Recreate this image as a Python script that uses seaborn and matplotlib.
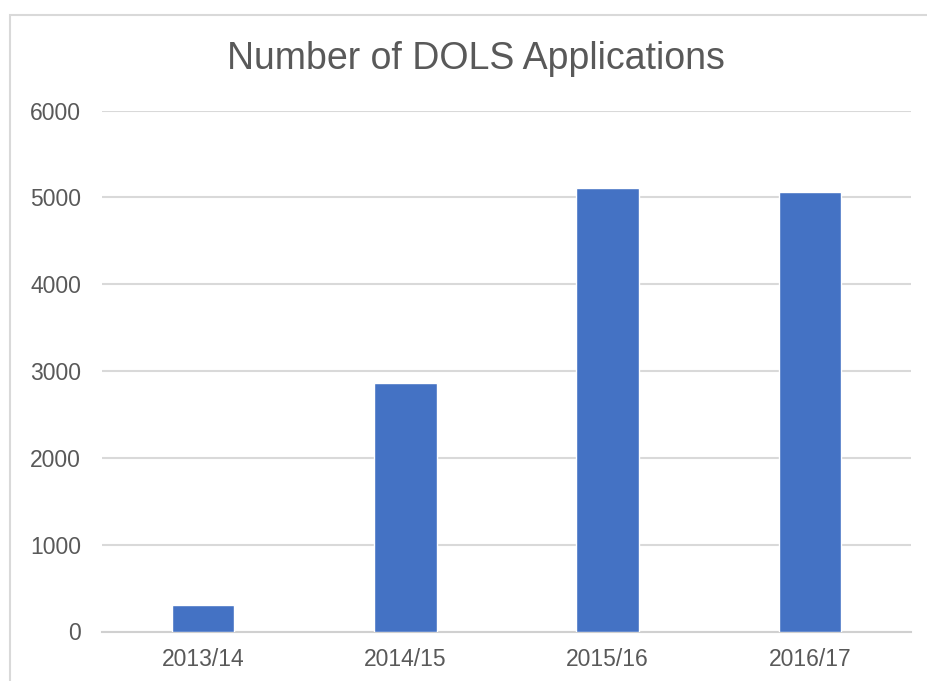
import matplotlib
matplotlib.use("Agg")
import matplotlib.pyplot as plt
import seaborn as sns
import pandas as pd
from matplotlib.patches import Rectangle

# data
years = ["2013/14", "2014/15", "2015/16", "2016/17"]
applications = [305, 2860, 5105, 5060]
yticks = [0, 1000, 2000, 3000, 4000, 5000, 6000]

sns.set_theme(style="white")
plt.rcParams['font.family'] = ['Liberation Sans', 'DejaVu Sans']

df = pd.DataFrame({"year": years, "applications": applications})

fig = plt.figure(figsize=(9.28, 6.81), dpi=100)
W, H = 928, 681

# light grey chart frame (cropped at right/bottom like the screenshot)
fig.patches.append(Rectangle((10 / W, -0.05), 1.1, (H - 15) / H + 0.05,
                             transform=fig.transFigure, fill=False,
                             edgecolor='#D9D9D9', linewidth=1.5))

ax = fig.add_axes([102 / W, 1 - 631.5 / H, (911 - 102) / W, (631.5 - 110.5) / H])
sns.barplot(data=df, x="year", y="applications", color='#4472C4',
            saturation=1, width=0.31, ax=ax, zorder=3)

ax.set_ylim(0, 6000)
ax.set_xlim(-0.5, 3.5)
ax.set_yticks(yticks)
ax.yaxis.grid(True, color='#D9D9D9', linewidth=1.5, zorder=0)
ax.set_axisbelow(True)
for s in ['top', 'right', 'left']:
    ax.spines[s].set_visible(False)
ax.spines['bottom'].set_color('#D0D0D0')
ax.spines['bottom'].set_linewidth(1.5)
ax.set_xlabel("")
ax.set_ylabel("")
ax.tick_params(axis='both', length=0, labelsize=16.5, labelcolor='#595959')
ax.tick_params(axis='y', pad=15)
ax.tick_params(axis='x', pad=12)

fig.text(476 / W, 1 - 59 / H, "Number of DOLS Applications", ha='center',
         va='center', fontsize=27, color='#595959')

fig.savefig("out.png", dpi=100)
